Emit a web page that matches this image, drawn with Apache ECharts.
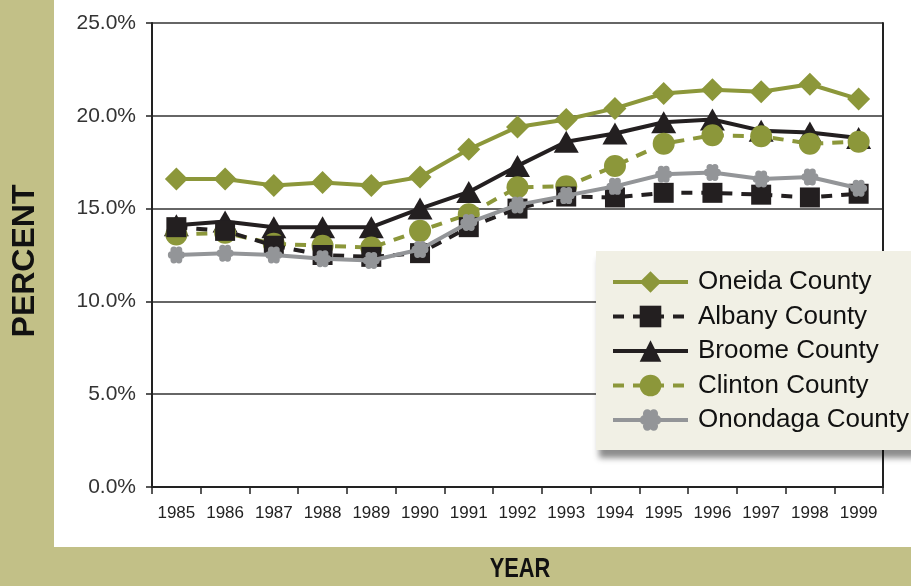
<!DOCTYPE html>
<html>
<head>
<meta charset="utf-8">
<style>
html, body {margin: 0; padding: 0; background: #c2c087;}
#chart {width: 911px; height: 586px;}
</style>
<script src="https://cdn.jsdelivr.net/npm/echarts@6/dist/echarts.min.js"></script>
</head>
<body>
<div id="chart"></div>
<script>
// data (percent)
var years = ['1985', '1986', '1987', '1988', '1989', '1990', '1991', '1992', '1993', '1994', '1995', '1996', '1997', '1998', '1999'];
var oneida   = [16.6, 16.6, 16.25, 16.4, 16.25, 16.7, 18.2, 19.4, 19.8, 20.4, 21.2, 21.4, 21.3, 21.7, 20.9];
var albany   = [14.0, 13.8, 13.0, 12.5, 12.4, 12.6, 14.0, 15.0, 15.65, 15.6, 15.85, 15.85, 15.75, 15.6, 15.8];
var broome   = [14.1, 14.3, 14.0, 14.0, 14.0, 15.0, 15.9, 17.3, 18.6, 19.05, 19.65, 19.8, 19.2, 19.1, 18.8];
var clinton  = [13.6, 13.7, 13.1, 13.0, 12.9, 13.8, 14.7, 16.15, 16.2, 17.3, 18.5, 18.95, 18.9, 18.5, 18.6];
var onondaga = [12.5, 12.6, 12.5, 12.3, 12.2, 12.8, 14.25, 15.2, 15.7, 16.2, 16.85, 16.95, 16.6, 16.7, 16.1];
var yTicks = [0, 5, 10, 15, 20, 25];

var OLIVE = '#8c973a';
var BLACK = '#231f20';
var GRAY = '#939598';
var FONT = 'Liberation Sans, Arial, sans-serif';

// little six petal flower for Onondaga
var flower = 'path://';
for (var k = 0; k < 6; k++) {
    var a = k * Math.PI / 3;
    var cx = 6 * Math.cos(a), cy = 6 * Math.sin(a);
    flower += 'M' + (cx - 4).toFixed(2) + ' ' + cy.toFixed(2) + 'a4 4 0 1 0 8 0a4 4 0 1 0 -8 0Z';
}
flower += 'M-6 0a6 6 0 1 0 12 0a6 6 0 1 0 -12 0Z';

var chart = echarts.init(document.getElementById('chart'));

var option = {
    backgroundColor: '#c2c087',
    animation: false,
    textStyle: {fontFamily: FONT},
    grid: {left: 152, right: 28, top: 23, bottom: 99},
    graphic: [
        {type: 'rect', z: -10, silent: true, shape: {x: 54, y: 0, width: 857, height: 547}, style: {fill: '#ffffff'}},
        {type: 'rect', z: 10, silent: true, shape: {x: 596, y: 251, width: 330, height: 199},
            style: {fill: '#f1f0e5', shadowBlur: 6, shadowOffsetX: 3, shadowOffsetY: 8, shadowColor: 'rgba(0,0,0,0.45)'}},
        {type: 'text', x: 25, y: 261, rotation: Math.PI / 2, z: 10,
            style: {text: 'PERCENT', font: 'bold 32px ' + FONT, fill: '#111', align: 'center', verticalAlign: 'middle'}},
        {type: 'text', x: 520, y: 569, scaleX: 0.78, z: 10,
            style: {text: 'YEAR', font: 'bold 28px ' + FONT, fill: '#111', align: 'center', verticalAlign: 'middle'}}
    ],
    legend: {
        orient: 'vertical',
        left: 611,
        top: 269,
        padding: 0,
        z: 20,
        itemWidth: 75,
        itemHeight: 27,
        itemGap: 8.5,
        data: ['Oneida County', 'Albany County', 'Broome County', 'Clinton County', 'Onondaga County'],
        lineStyle: {width: 4},
        textStyle: {fontSize: 26, lineHeight: 26, color: '#111', fontFamily: FONT, padding: [0, 0, 0, 5]}
    },
    xAxis: {
        type: 'category',
        data: years,
        boundaryGap: true,
        axisLine: {lineStyle: {color: '#222', width: 2}},
        axisTick: {show: true, length: 7, lineStyle: {color: '#222', width: 1.5}},
        axisLabel: {fontSize: 17, color: '#222', margin: 18, interval: 0}
    },
    yAxis: [{
        type: 'value',
        min: yTicks[0],
        max: yTicks[yTicks.length - 1],
        interval: 5,
        axisLine: {show: true, lineStyle: {color: '#222', width: 2}},
        axisTick: {show: true, length: 6, lineStyle: {color: '#222', width: 1.5}},
        axisLabel: {fontSize: 21, color: '#333', margin: 16, formatter: function (v) { return v.toFixed(1) + '%'; }},
        splitLine: {show: true, lineStyle: {color: '#333', width: 1.5}}
    }, {
        type: 'value',
        position: 'right',
        min: yTicks[0],
        max: yTicks[yTicks.length - 1],
        interval: 5,
        axisLine: {show: true, lineStyle: {color: '#222', width: 2}},
        axisTick: {show: false},
        axisLabel: {show: false},
        splitLine: {show: false}
    }],
    series: [
        {name: 'Oneida County', type: 'line', data: oneida, z: 2,
            symbol: 'diamond', symbolSize: 23, itemStyle: {color: OLIVE},
            lineStyle: {color: OLIVE, width: 4}},
        {name: 'Broome County', type: 'line', data: broome, z: 3,
            symbol: 'triangle', symbolSize: [25, 22], itemStyle: {color: BLACK},
            lineStyle: {color: BLACK, width: 4}},
        {name: 'Clinton County', type: 'line', data: clinton, z: 4,
            symbol: 'circle', symbolSize: 22, itemStyle: {color: OLIVE},
            lineStyle: {color: OLIVE, width: 4, type: [11, 9]}},
        {name: 'Albany County', type: 'line', data: albany, z: 5,
            symbol: 'rect', symbolSize: 20, itemStyle: {color: BLACK},
            lineStyle: {color: BLACK, width: 4, type: [11, 9]}},
        {name: 'Onondaga County', type: 'line', data: onondaga, z: 6,
            symbol: flower, symbolSize: 17, itemStyle: {color: GRAY},
            lineStyle: {color: GRAY, width: 4}}
    ]
};

chart.setOption(option);
</script>
</body>
</html>
